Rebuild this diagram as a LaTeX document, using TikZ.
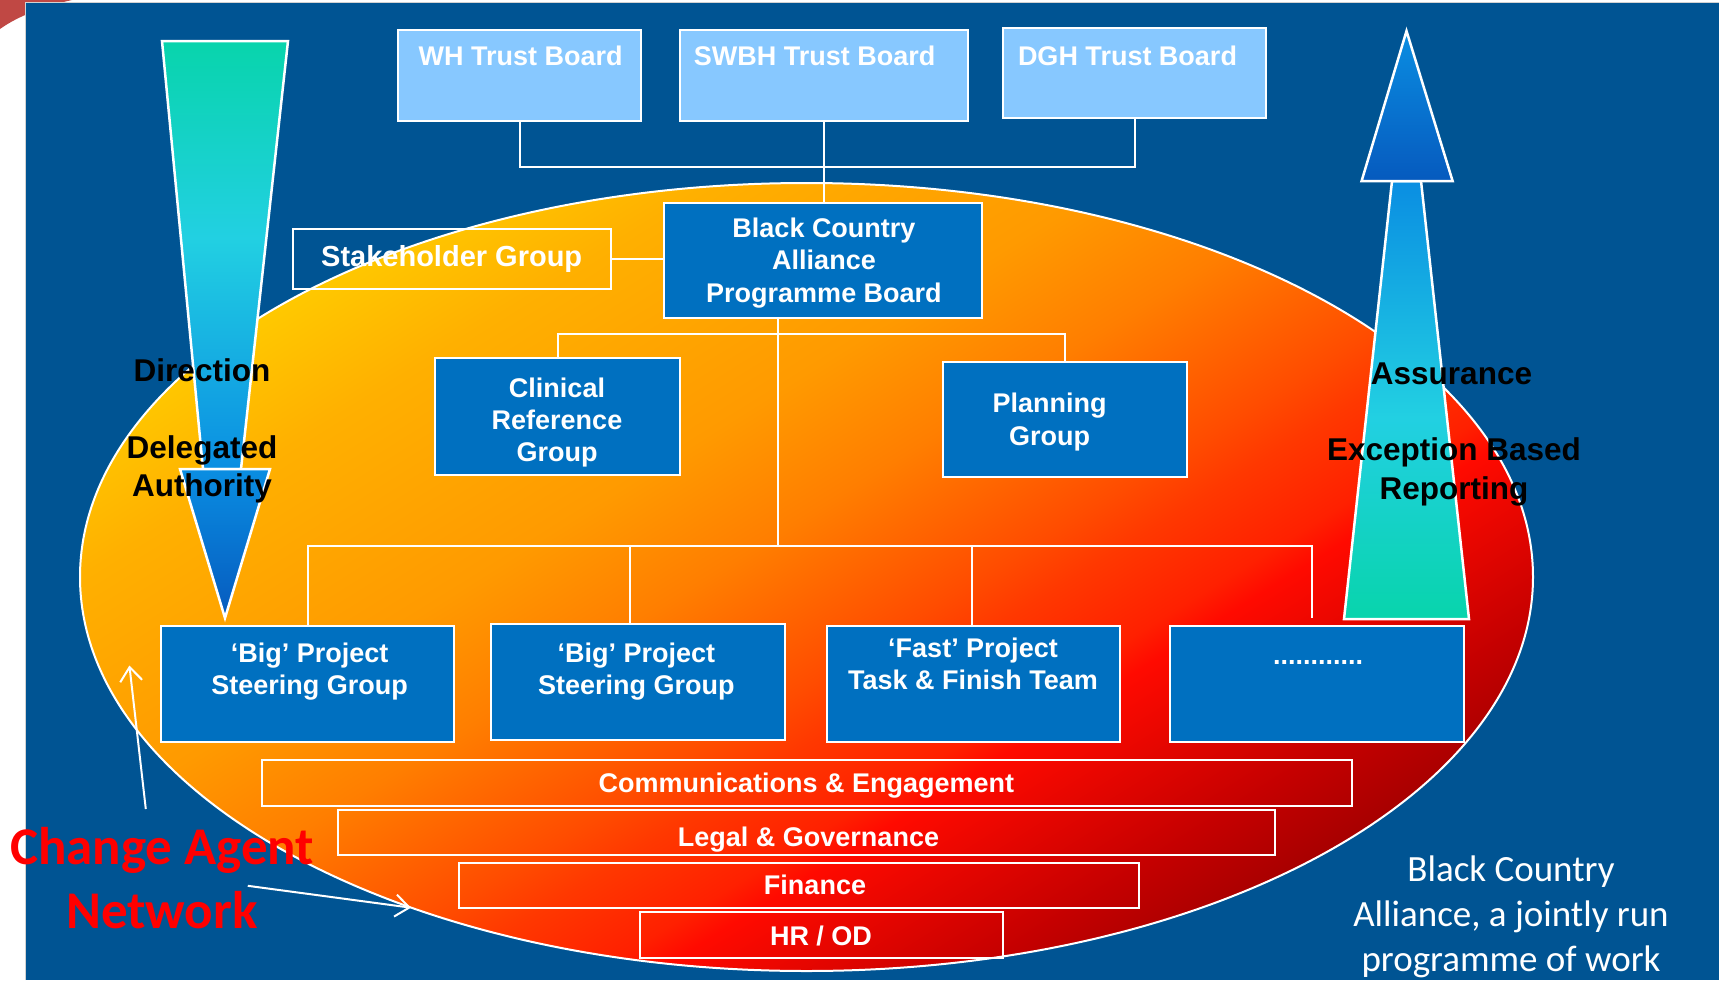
\documentclass[tikz,border=0pt]{standalone}
\usepackage{fontspec}
\setmainfont{Liberation Sans}
\newfontfamily\calfont{Carlito}
\usetikzlibrary{arrows.meta}
\definecolor{bgblue}{RGB}{0,84,147}
\definecolor{boxblue}{RGB}{0,112,192}
\definecolor{lightbox}{RGB}{135,200,255}
\definecolor{cornerred}{RGB}{192,72,68}
\definecolor{g1}{RGB}{255,200,0}
\definecolor{g2}{RGB}{255,176,0}
\definecolor{g3}{RGB}{255,154,0}
\definecolor{g4}{RGB}{255,126,0}
\definecolor{g5}{RGB}{255,76,0}
\definecolor{g6}{RGB}{255,56,0}
\definecolor{g7}{RGB}{255,32,0}
\definecolor{g8}{RGB}{255,10,0}
\definecolor{g9}{RGB}{196,0,0}
\definecolor{g10}{RGB}{168,0,0}
\definecolor{ateal}{RGB}{8,212,172}
\definecolor{acyan}{RGB}{34,208,226}
\definecolor{ablue}{RGB}{10,142,226}
\definecolor{adeep}{RGB}{6,90,190}
\definecolor{cared}{RGB}{255,0,0}
\pgfdeclarehorizontalshading{ellshade}{100bp}{color(0bp)=(g1); color(32.5bp)=(g1); color(36.7bp)=(g2); color(44bp)=(g3); color(48.2bp)=(g4); color(53.2bp)=(g5); color(54.9bp)=(g6); color(57.7bp)=(g7); color(58.8bp)=(g8); color(64.7bp)=(g9); color(67.5bp)=(g10); color(100bp)=(g10)}
\pgfdeclareverticalshading{shaftdown}{100bp}{color(0bp)=(ablue); color(25bp)=(ablue); color(52bp)=(acyan); color(75bp)=(ateal); color(100bp)=(ateal)}
\pgfdeclareverticalshading{shaftup}{100bp}{color(0bp)=(ateal); color(25bp)=(ateal); color(48bp)=(acyan); color(75bp)=(ablue); color(100bp)=(ablue)}
\pgfdeclareverticalshading{headshade}{100bp}{color(0bp)=(adeep); color(25bp)=(adeep); color(75bp)=(ablue); color(100bp)=(ablue)}
\tikzset{
  conn/.style={draw=white, line width=2pt},
  boardbox/.style={draw=white, line width=2pt, fill=lightbox, inner sep=0pt},
  bluebox/.style={draw=white, line width=2pt, fill=boxblue, inner sep=0pt},
  openbox/.style={draw=white, line width=2pt, inner sep=0pt},
  btxt/.style={text=white, font=\fontsize{27}{32.3}\selectfont\bfseries, align=center, inner sep=0pt},
  sidetxt/.style={text=black, font=\fontsize{31.5}{38.5}\selectfont\bfseries, align=center, inner sep=0pt},
  arrowshape/.style={draw=white, line width=2.5pt, line join=miter},
  caarrow/.style={draw=white, line width=2pt, -{Straight Barb[length=14pt,width=22pt]}},
}
\begin{document}
\begin{tikzpicture}[x=1pt,y=-1pt]
\useasboundingbox (0,0) rectangle (1719,980);
\fill[cornerred] (0,0) -- (72,0) .. controls (45,6) and (18,16) .. (0,29) -- cycle;
\fill[bgblue] (26,3) rectangle (1719,980);
\draw[gray!35, line width=1pt] (25.5,980) -- (25.5,2.5) -- (1719,2.5);
% ellipse
\begin{scope}
\clip (806.5,577) ellipse [x radius=726.5, y radius=394];
\shade[shading=ellshade, shading angle=-58] (80,-149.5) rectangle (1533,1303.5);
\end{scope}
\draw[white, line width=2pt] (806.5,577) ellipse [x radius=726.5, y radius=394];
% boxes
\node[boardbox, minimum width=243, minimum height=91] (wh) at (519.5,75.5) {};
\node[boardbox, minimum width=288, minimum height=91] (swbh) at (824,75.5) {};
\node[boardbox, minimum width=263, minimum height=90] (dgh) at (1134.5,73) {};
\node[bluebox, minimum width=318, minimum height=115] (pb) at (823,260.5) {};
\node[openbox, minimum width=318, minimum height=60] (stake) at (452,259) {};
\node[bluebox, minimum width=245, minimum height=117] (crg) at (557.5,416.5) {};
\node[bluebox, minimum width=244, minimum height=115] (plan) at (1065,419.5) {};
\node[bluebox, minimum width=293, minimum height=116] (big1) at (307.5,684) {};
\node[bluebox, minimum width=294, minimum height=116] (big2) at (638,682) {};
\node[bluebox, minimum width=293, minimum height=116] (fast) at (973.5,684) {};
\node[bluebox, minimum width=294, minimum height=116] (dots) at (1317,684) {};
\node[openbox, minimum width=1090, minimum height=46] (comm) at (807,783) {};
\node[openbox, minimum width=937, minimum height=45] (legal) at (806.5,832.5) {};
\node[openbox, minimum width=680, minimum height=45] (fin) at (799,885.5) {};
\node[openbox, minimum width=363, minimum height=46] (hr) at (821.5,935) {};
% connectors
\coordinate (tj) at (824,166.6);
\draw[conn] (wh.south) |- (tj) -| (dgh.south);
\draw[conn] (swbh.south) -- (swbh.south |- pb.north);
\draw[conn] (stake.east) -- (stake.east -| pb.west);
\coordinate (pbs) at (778.4,318);
\coordinate (bus1) at (778.4,334.4);
\coordinate (bus2) at (778.4,546);
\draw[conn] (pbs) -- (bus2);
\draw[conn] (crg.north) |- (bus1) -| (plan.north);
\draw[conn] (big1.north) |- (bus2) -| ([xshift=-5pt,yshift=7pt]dots.north);
\draw[conn] ([xshift=-8pt]big2.north) -- ([xshift=-8pt]big2.north |- bus2);
\draw[conn] ([xshift=-2pt]fast.north) -- ([xshift=-2pt]fast.north |- bus2);
% arrows
\shadedraw[shading=shaftdown, arrowshape] (162,41) -- (288,41) -- (241,469) -- (203,469) -- cycle;
\shadedraw[shading=headshade, arrowshape] (180,469) -- (270,469) -- (225,618) -- cycle;
\shadedraw[shading=shaftup, arrowshape] (1392,181) -- (1421,181) -- (1469,619) -- (1344,619) -- cycle;
\shadedraw[shading=headshade, arrowshape] (1406.5,31) -- (1452.6,181) -- (1361.6,181) -- cycle;
% change agent arrows
\coordinate (ca1s) at (145.8,809);
\coordinate (ca1e) at (129.4,665.5);
\coordinate (ca2s) at (247.8,885.8);
\coordinate (ca2e) at (411,907.7);
\draw[caarrow] (ca1s) -- (ca1e);
\draw[caarrow] (ca2s) -- (ca2e);
% texts
\node[btxt] (twh) at (520.7,56) {WH Trust Board};
\node[btxt] (tswbh) at (814.6,56) {SWBH Trust Board};
\node[btxt] (tdgh) at (1127.5,56) {DGH Trust Board};
\node[btxt] (tpb) at (824,263) {Black Country\\Alliance\\Programme Board};
\node[btxt, font=\fontsize{29}{34}\selectfont\bfseries] (tstake) at (451.7,259) {Stakeholder Group};
\node[btxt] (tcrg) at (557,422.5) {Clinical\\Reference\\Group};
\node[btxt] (tplan) at (1049.5,422) {Planning\\Group};
\node[btxt] (tbig1) at (309.7,671.5) {‘Big’ Project\\Steering Group};
\node[btxt] (tbig2) at (636.4,671.5) {‘Big’ Project\\Steering Group};
\node[btxt] (tfast) at (973,664) {‘Fast’ Project\\Task \& Finish Team};
\node[btxt] (tdots) at (1318,662) {............};
\node[btxt] (tcomm) at (806.3,785.5) {Communications \& Engagement};
\node[btxt] (tlegal) at (808.5,839.5) {Legal \& Governance};
\node[btxt] (tfin) at (815,885) {Finance};
\node[btxt] (thr) at (821,936) {HR / OD};
\node[sidetxt] (tdir) at (202,370.5) {Direction};
\node[sidetxt] (tdel) at (202,469.5) {Delegated\\Authority};
\node[sidetxt] (tass) at (1451.5,373.5) {Assurance};
\node[sidetxt] (texc) at (1454,472) {Exception Based\\Reporting};
\node[text=cared, font=\calfont\fontsize{53}{63.6}\selectfont\bfseries, align=center, inner sep=0pt] (tcan) at (162,878) {Change Agent\\Network};
\node[text=white, font=\calfont\fontsize{37}{45}\selectfont, align=center, inner sep=0pt] (tbca) at (1511,916.5) {Black Country\\Alliance, a jointly run\\programme of work};
\end{tikzpicture}
\end{document}
